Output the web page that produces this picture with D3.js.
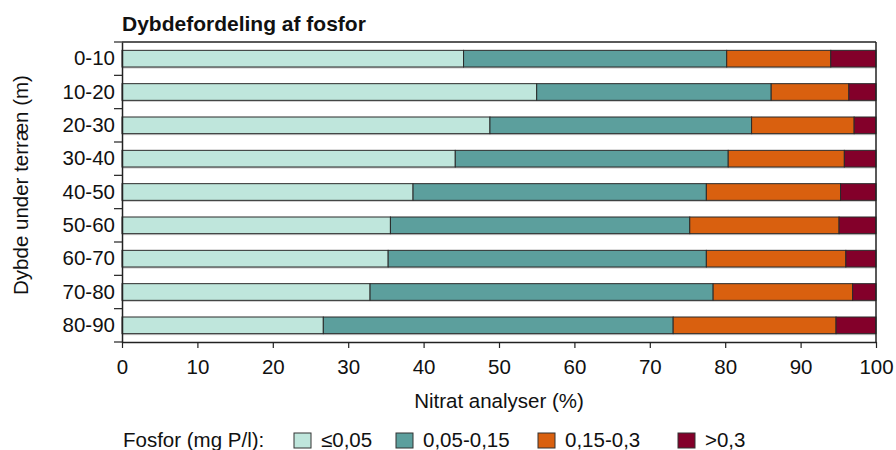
<!DOCTYPE html>
<html>
<head>
<meta charset="utf-8">
<script src="https://cdn.jsdelivr.net/npm/d3@7"></script>
<style>
  html, body { margin: 0; padding: 0; background: #fff; }
  svg { display: block; font-family: "Liberation Sans", Arial, Helvetica, sans-serif; }
</style>
</head>
<body>
<svg id="chart" width="896" height="450"></svg>
<script>
// ---- data ----
const categories = ["0-10", "10-20", "20-30", "30-40", "40-50", "50-60", "60-70", "70-80", "80-90"];
const seriesNames = ["≤0,05", "0,05-0,15", "0,15-0,3", ">0,3"];
const s1 = [45.3, 55.0, 48.8, 44.2, 38.6, 35.6, 35.3, 32.9, 26.7];
const s2 = [34.9, 31.1, 34.7, 36.2, 38.9, 39.7, 42.2, 45.5, 46.4];
const s3 = [13.8, 10.3, 13.6, 15.4, 17.8, 19.8, 18.5, 18.5, 21.6];
const s4 = [6.0, 3.6, 2.9, 4.2, 4.7, 4.9, 4.0, 3.1, 5.3];
const xTicks = [0, 10, 20, 30, 40, 50, 60, 70, 80, 90, 100];
const colors = ["#bfe6dc", "#5c9f9d", "#d9600f", "#83002a"];
const chartTitle = "Dybdefordeling af fosfor";
const xTitle = "Nitrat analyser (%)";
const yTitle = "Dybde under terræn (m)";
const legendTitle = "Fosfor (mg P/l):";

// ---- layout ----
const svg = d3.select("#chart");
const mLeft = 122, mRight = 876, mTop = 42, mBottom = 342;
const FS = 20.5;

const x = d3.scaleLinear().domain([0, 100]).range([mLeft, mRight]);
const y = d3.scaleBand().domain(categories).range([mTop, mBottom]).padding(0);

const table = categories.map((c, i) => ({ cat: c, k0: s1[i], k1: s2[i], k2: s3[i], k3: s4[i] }));
const stack = d3.stack().keys(["k0", "k1", "k2", "k3"]);
const layers = stack(table);

const barH = y.bandwidth() * 0.5;
const barOff = (y.bandwidth() - barH) / 2;

// subtle shadow under bars
svg.append("g").selectAll("rect")
  .data(table)
  .join("rect")
  .attr("x", x(0))
  .attr("y", d => y(d.cat) + barOff + 1.5)
  .attr("width", x(100) - x(0))
  .attr("height", barH)
  .attr("fill", "#c8c8c8");

svg.append("g").selectAll("g")
  .data(layers)
  .join("g")
  .attr("fill", (d, i) => colors[i])
  .selectAll("rect")
  .data(d => d)
  .join("rect")
  .attr("x", d => x(d[0]))
  .attr("y", d => y(d.data.cat) + barOff)
  .attr("width", d => x(d[1]) - x(d[0]))
  .attr("height", barH)
  .attr("stroke", "#2a2a2a")
  .attr("stroke-width", 1);

// frame: top and right
svg.append("line").attr("x1", mLeft).attr("x2", mRight).attr("y1", mTop).attr("y2", mTop)
  .attr("stroke", "#222").attr("stroke-width", 1.5);
svg.append("line").attr("x1", mRight).attr("x2", mRight).attr("y1", mTop).attr("y2", mBottom)
  .attr("stroke", "#222").attr("stroke-width", 1.5);

// x axis
const xAxis = svg.append("g")
  .attr("transform", `translate(0,${mBottom})`)
  .call(d3.axisBottom(x).tickValues(xTicks).tickSize(6).tickPadding(11).tickSizeOuter(0));
xAxis.select(".domain").attr("stroke", "#222").attr("stroke-width", 1.5);
xAxis.selectAll(".tick line").attr("stroke", "#222").attr("stroke-width", 1.2);
xAxis.selectAll(".tick text").attr("font-size", FS).attr("fill", "#111")
  .attr("font-family", "Liberation Sans, Arial, sans-serif");

// y axis labels
const yAxis = svg.append("g")
  .attr("transform", `translate(${mLeft},0)`)
  .call(d3.axisLeft(y).tickSize(0).tickPadding(7).tickSizeOuter(0));
yAxis.select(".domain").attr("stroke", "#222").attr("stroke-width", 1.5);
yAxis.selectAll(".tick text").attr("font-size", FS).attr("fill", "#111")
  .attr("font-family", "Liberation Sans, Arial, sans-serif");

// y boundary ticks
const bounds = categories.map(c => y(c)).concat([mBottom]);
svg.append("g").selectAll("line")
  .data(bounds)
  .join("line")
  .attr("x1", mLeft - 8).attr("x2", mLeft)
  .attr("y1", d => d).attr("y2", d => d)
  .attr("stroke", "#222").attr("stroke-width", 1.2);

// title
svg.append("text").attr("x", 122).attr("y", 31)
  .attr("font-size", 21).attr("font-weight", "bold").attr("fill", "#111")
  .text(chartTitle);

// x title
svg.append("text").attr("x", (mLeft + mRight) / 2).attr("y", 408)
  .attr("text-anchor", "middle").attr("font-size", FS).attr("fill", "#111")
  .text(xTitle);

// y title
svg.append("text")
  .attr("transform", `translate(28,185) rotate(-90)`)
  .attr("text-anchor", "middle").attr("font-size", FS).attr("fill", "#111")
  .text(yTitle);

// legend
const legY = 447;
svg.append("text").attr("x", 123).attr("y", legY)
  .attr("font-size", FS).attr("fill", "#111").text(legendTitle);
const legX = [294, 396, 538, 678];
const leg = svg.append("g").selectAll("g")
  .data(seriesNames)
  .join("g")
  .attr("transform", (d, i) => `translate(${legX[i]},0)`);
leg.append("rect")
  .attr("x", 0).attr("y", 433).attr("width", 17).attr("height", 15)
  .attr("fill", (d, i) => colors[i]).attr("stroke", "#333").attr("stroke-width", 1);
leg.append("text")
  .attr("x", 27).attr("y", legY)
  .attr("font-size", FS).attr("fill", "#111")
  .text(d => d);
</script>
</body>
</html>
